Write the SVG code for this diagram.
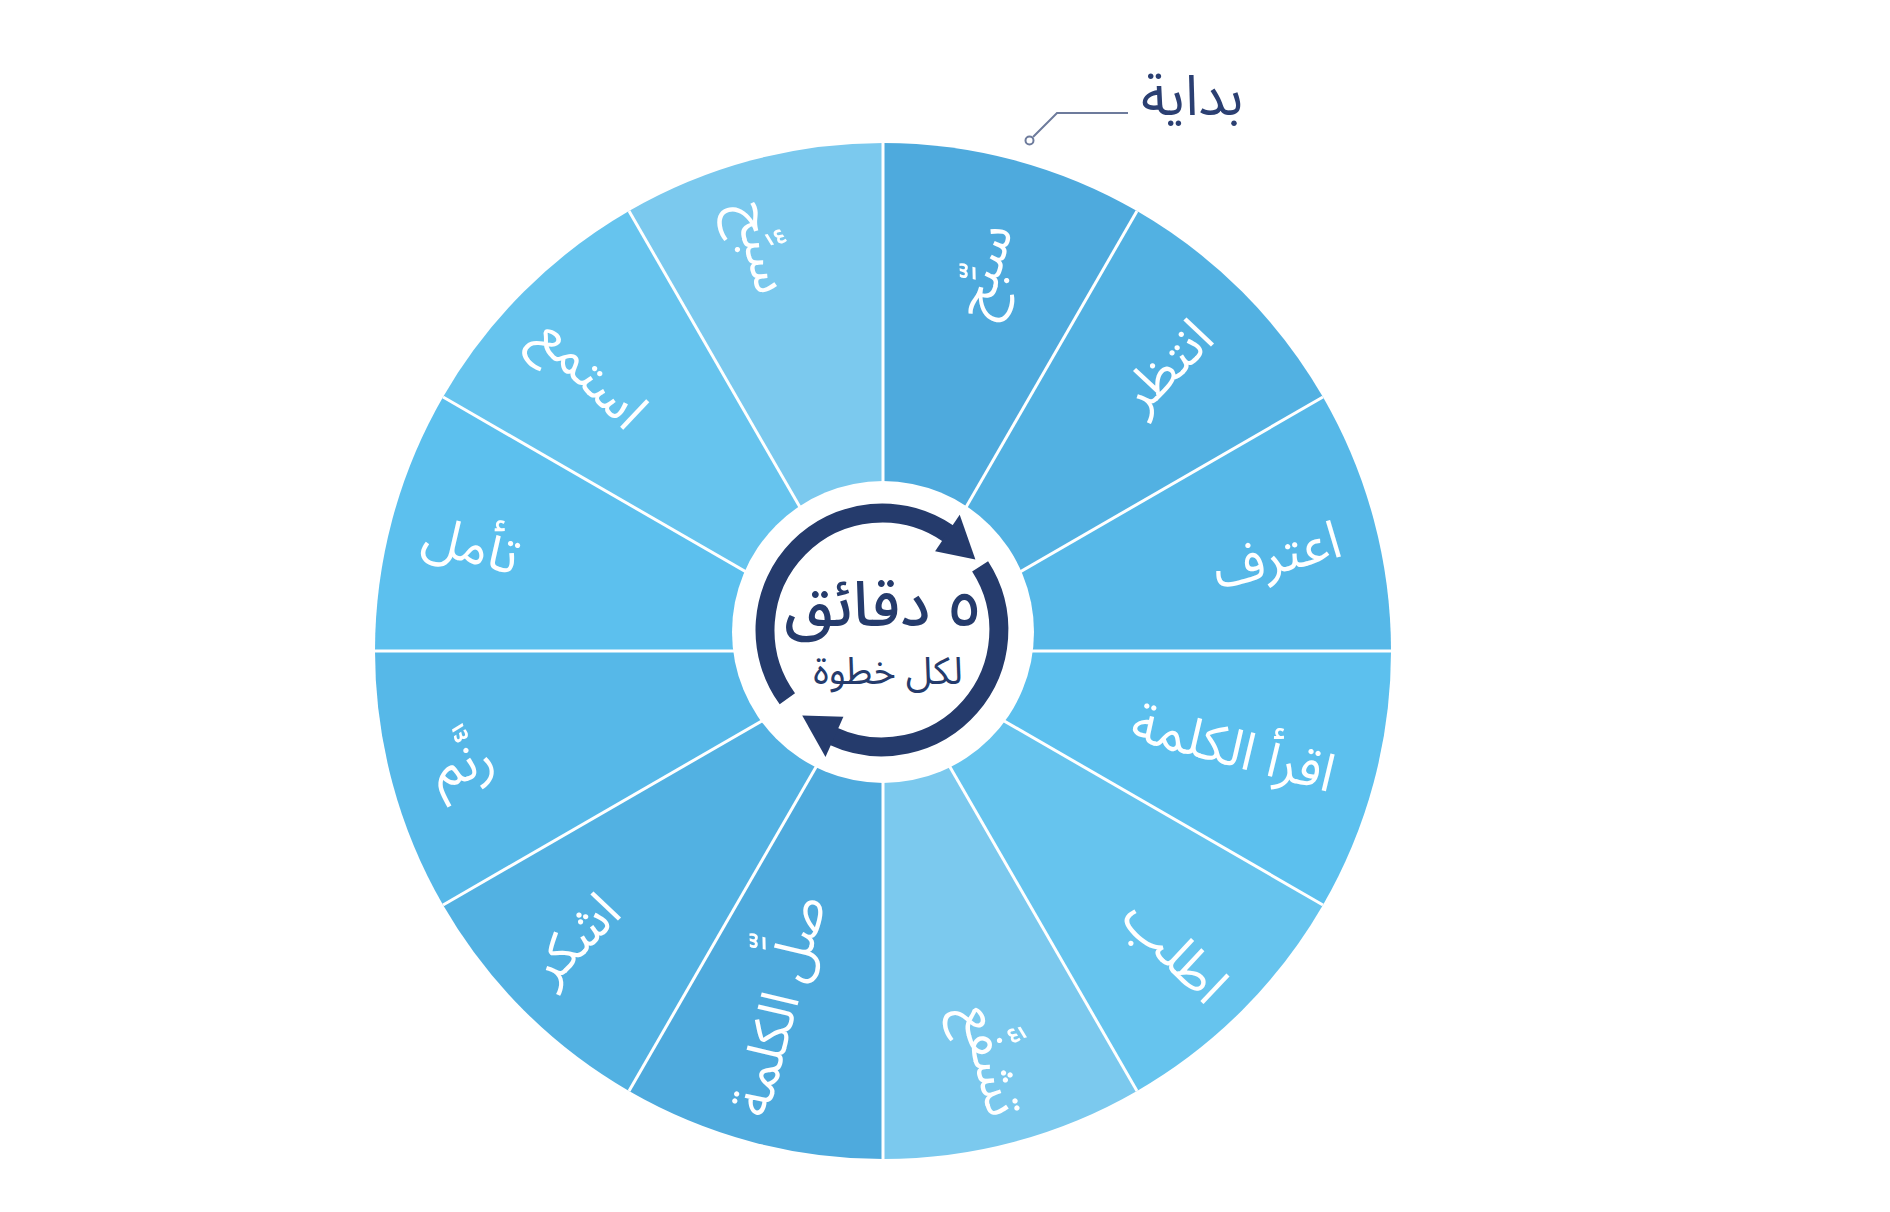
<svg xmlns="http://www.w3.org/2000/svg" width="1890" height="1212" viewBox="0 0 1890 1212">
<style>
.lbl{font-family:"Noto Sans Arabic","DejaVu Sans",sans-serif;font-size:53px;font-weight:400;fill:#ffffff;text-anchor:middle}
.div{stroke:#ffffff;stroke-width:3;fill:none}
.ring{stroke:#253b6c;stroke-width:19;fill:none}
.navy{fill:#253b6c}
.ctr{font-family:"Noto Sans Arabic","DejaVu Sans",sans-serif;fill:#253b6c;text-anchor:middle}
</style>
<rect width="1890" height="1212" fill="#ffffff"/>
<g id="wheel">
<g id="seg1"><path d="M883 651 L883 143 A508 508 0 0 1 1137 211.05 Z" fill="#4eaadd"/><text class="lbl" transform="translate(985,271) rotate(-75)" dy="0.3em">سبِّح</text></g>
<g id="seg2"><path d="M883 651 L1137 211.05 A508 508 0 0 1 1322.95 397 Z" fill="#52b1e2"/><text class="lbl" transform="translate(1168,367) rotate(-45)" dy="0.3em">انتظر</text></g>
<g id="seg3"><path d="M883 651 L1322.95 397 A508 508 0 0 1 1391 651 Z" fill="#56b8e8"/><text class="lbl" transform="translate(1277,557) rotate(-15)" dy="0.3em">اعترف</text></g>
<g id="seg4"><path d="M883 651 L1391 651 A508 508 0 0 1 1322.95 905 Z" fill="#5cc0ee"/><text class="lbl" transform="translate(1233,750) rotate(15)" dy="0.3em">اقرأ الكلمة</text></g>
<g id="seg5"><path d="M883 651 L1322.95 905 A508 508 0 0 1 1137 1090.95 Z" fill="#66c4ee"/><text class="lbl" transform="translate(1174,952) rotate(45)" dy="0.3em">اطلب</text></g>
<g id="seg6"><path d="M883 651 L1137 1090.95 A508 508 0 0 1 883 1159 Z" fill="#7bc9ee"/><text class="lbl" transform="translate(990,1060) rotate(75)" dy="0.3em">تشفَّع</text></g>
<g id="seg7"><path d="M883 651 L883 1159 A508 508 0 0 1 629 1090.95 Z" fill="#4eaadd"/><text class="lbl" transform="translate(781,1006) rotate(-75)" dy="0.3em">صلِّ الكلمة</text></g>
<g id="seg8"><path d="M883 651 L629 1090.95 A508 508 0 0 1 443.05 905 Z" fill="#52b1e2"/><text class="lbl" transform="translate(576,940) rotate(-45)" dy="0.3em">اشكر</text></g>
<g id="seg9"><path d="M883 651 L443.05 905 A508 508 0 0 1 375 651 Z" fill="#56b8e8"/><text class="lbl" transform="translate(464,765) rotate(-15)" dy="0.3em">رنَّم</text></g>
<g id="seg10"><path d="M883 651 L375 651 A508 508 0 0 1 443.05 397 Z" fill="#5cc0ee"/><text class="lbl" transform="translate(471,547) rotate(15)" dy="0.3em">تأمل</text></g>
<g id="seg11"><path d="M883 651 L443.05 397 A508 508 0 0 1 629 211.05 Z" fill="#66c4ee"/><text class="lbl" transform="translate(590,374) rotate(45)" dy="0.3em">استمع</text></g>
<g id="seg12"><path d="M883 651 L629 211.05 A508 508 0 0 1 883 143 Z" fill="#7bc9ee"/><text class="lbl" transform="translate(761,247) rotate(75)" dy="0.3em">سبِّح</text></g>
</g>
<g id="connectors">
<line class="div" x1="883" y1="651" x2="883" y2="143"/>
<line class="div" x1="883" y1="651" x2="1137" y2="211.05"/>
<line class="div" x1="883" y1="651" x2="1322.95" y2="397"/>
<line class="div" x1="883" y1="651" x2="1391" y2="651"/>
<line class="div" x1="883" y1="651" x2="1322.95" y2="905"/>
<line class="div" x1="883" y1="651" x2="1137" y2="1090.95"/>
<line class="div" x1="883" y1="651" x2="883" y2="1159"/>
<line class="div" x1="883" y1="651" x2="629" y2="1090.95"/>
<line class="div" x1="883" y1="651" x2="443.05" y2="905"/>
<line class="div" x1="883" y1="651" x2="375" y2="651"/>
<line class="div" x1="883" y1="651" x2="443.05" y2="397"/>
<line class="div" x1="883" y1="651" x2="629" y2="211.05"/>
<polyline points="1128,113 1057,113 1033,137" fill="none" stroke="#6d7b9c" stroke-width="2"/>
<circle cx="1029.5" cy="140.5" r="4" fill="#ffffff" stroke="#6d7b9c" stroke-width="2"/>
</g>
<g id="center">
<circle cx="883" cy="632" r="151" fill="#ffffff"/>
<path class="ring" d="M787.35 698.77 A117 117 0 0 1 949.1 534.15"/>
<polygon class="navy" points="935.1,551.2 959.7,514.8 975.4,559.6"/>
<path class="ring" d="M980.1 566.3 A117 117 0 0 1 832.6 736"/>
<polygon class="navy" points="843.4,716.8 825.5,757 802.2,715.6"/>
<text class="ctr" x="883" y="626" font-size="62" font-weight="500">٥ دقائق</text>
<text class="ctr" x="888" y="684" font-size="38">لكل خطوة</text>
</g>
<g id="start-label">
<text x="1192" y="115" font-family="'Noto Sans Arabic','DejaVu Sans',sans-serif" font-size="56" fill="#2b3f72" text-anchor="middle">بداية</text>
</g>
</svg>
